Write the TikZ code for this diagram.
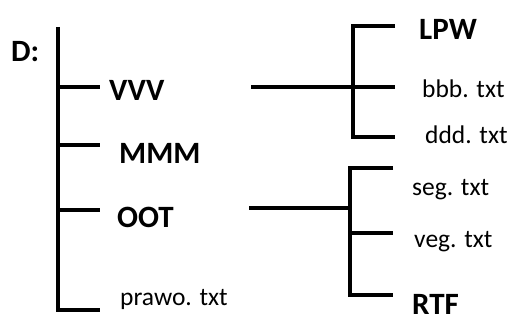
\documentclass[tikz,border=0pt]{standalone}
\usepackage{fontspec}
\setmainfont{Carlito}
\usetikzlibrary{positioning}

\begin{document}
\begin{tikzpicture}[
        x=1pt, y=-1pt,
        folder/.style={font=\fontsize{31}{32}\selectfont\bfseries, anchor=base west, inner sep=0pt},
        file/.style={font=\fontsize{25.5}{26}\selectfont, anchor=base west, inner sep=0pt},
        branch/.style={draw=black, line width=4pt}
    ]
        \useasboundingbox (0,0) rectangle (511,321);

        % labels
        \node[folder] (drive) at (11,62) {D:};
        \node[folder] (vvv) at (109,100) {VVV};
        \node[folder] (mmm) at (119,163) {MMM};
        \node[folder] (oot) at (117,227) {OOT};
        \node[file] (prawo) at (120,305) {prawo. txt};
        \node[folder] (lpw) at (419,40) {LPW};
        \node[file] (bbb) at (422,97) {bbb. txt};
        \node[file] (ddd) at (425,143) {ddd. txt};
        \node[file] (seg) at (412,195) {seg. txt};
        \node[file] (veg) at (414,247) {veg. txt};
        \node[folder] (rtf) at (412,314) {RTF};

        % main trunk
        \coordinate (roottop) at (58,27);
        \coordinate (rootvvv) at (58,87);
        \coordinate (rootmmm) at (58,145);
        \coordinate (rootoot) at (58,210);
        \coordinate (rootend) at (58,310);
        \draw[branch] (roottop) -- (rootend) -- (100,310);
        \draw[branch] (rootvvv) -- (100,87);
        \draw[branch] (rootmmm) -- (100,145);
        \draw[branch] (rootoot) -- (100,210);

        % VVV subtree
        \coordinate (vvvfrom) at (251,87);
        \coordinate (vvvjoin) at (353,87);
        \draw[branch] (vvvfrom) -- (vvvjoin);
        \draw[branch] (395,26) -- (353,26) -- (353,137) -- (395,137);
        \draw[branch] (vvvjoin) -- (395,87);

        % OOT subtree
        \coordinate (ootfrom) at (249,208);
        \coordinate (ootjoin) at (350,208);
        \draw[branch] (ootfrom) -- (ootjoin);
        \draw[branch] (393,168) -- (350,168) -- (350,295) -- (393,295);
        \draw[branch] (350,233) -- (393,233);
    \end{tikzpicture}
\end{document}
